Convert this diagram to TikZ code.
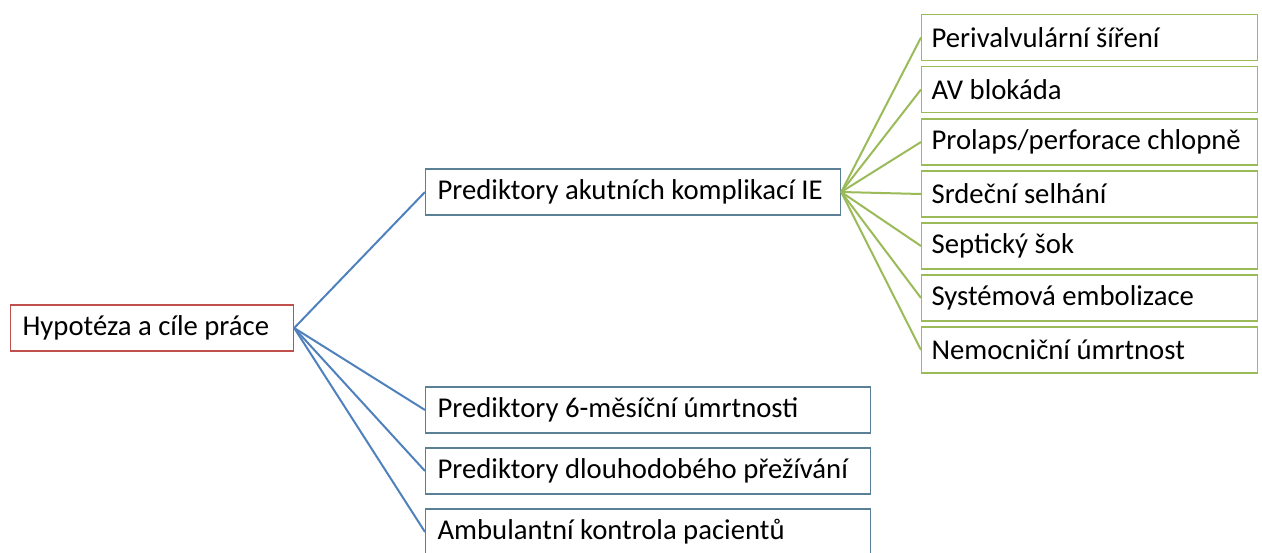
\documentclass[tikz,border=0pt]{standalone}
\usepackage{fontspec}
\setmainfont{Carlito}
\definecolor{rootred}{HTML}{C0504D}
\definecolor{linkblue}{HTML}{4F81BD}
\definecolor{leafgreen}{HTML}{9BBB59}
\definecolor{boxblue}{HTML}{5B7F95}
\newcommand{\boxtext}[2]{\makebox[#1][l]{#2}}
\tikzset{
  box/.style={draw, line width=1.2pt, rectangle, anchor=west, minimum height=46pt,
    inner xsep=12pt, font=\fontsize{28.7}{31}\selectfont},
  rootbox/.style={box, draw=rootred},
  midbox/.style={box, draw=boxblue},
  lowbox/.style={box, draw=boxblue},
  leafbox/.style={box, draw=leafgreen, inner xsep=10pt},
  bluelink/.style={linkblue, line width=2pt},
  greenlink/.style={leafgreen, line width=2pt}
}
\begin{document}
\begin{tikzpicture}[x=1pt,y=-1pt]
  \useasboundingbox (0,0) rectangle (1262,552);
  \pgfmathsetmacro{\lx}{921}
  \node[rootbox] (root) at (10,328) {\boxtext{259pt}{Hypotéza a cíle práce}};
  \node[midbox] (acute) at (425,192) {\boxtext{391pt}{Prediktory akutních komplikací IE}};
  \node[lowbox] (six) at (425,410) {\boxtext{421pt}{Prediktory 6-měsíční úmrtnosti}};
  \node[lowbox] (long) at (425,471) {\boxtext{421pt}{Prediktory dlouhodobého přežívání}};
  \node[lowbox] (amb) at (425,532) {\boxtext{421pt}{Ambulantní kontrola pacientů}};
  % complications
  \foreach \name/\y/\txt in {peri/37.5/{Perivalvulární šíření}, avb/89.5/{AV blokáda},
      prol/142/{Prolaps/perforace chlopně}, srd/194/{Srdeční selhání},
      sep/246/{Septický šok}, emb/298/{Systémová embolizace}, nem/350/{Nemocniční úmrtnost}}{
    \node[leafbox] (\name) at (\lx,\y) {\boxtext{316pt}{\txt}};
    \draw[greenlink] (acute.east) -- (\name.west);
  }
  \foreach \child in {acute,six,long,amb}
    \draw[bluelink] (root.east) -- (\child.west);
\end{tikzpicture}
\end{document}
